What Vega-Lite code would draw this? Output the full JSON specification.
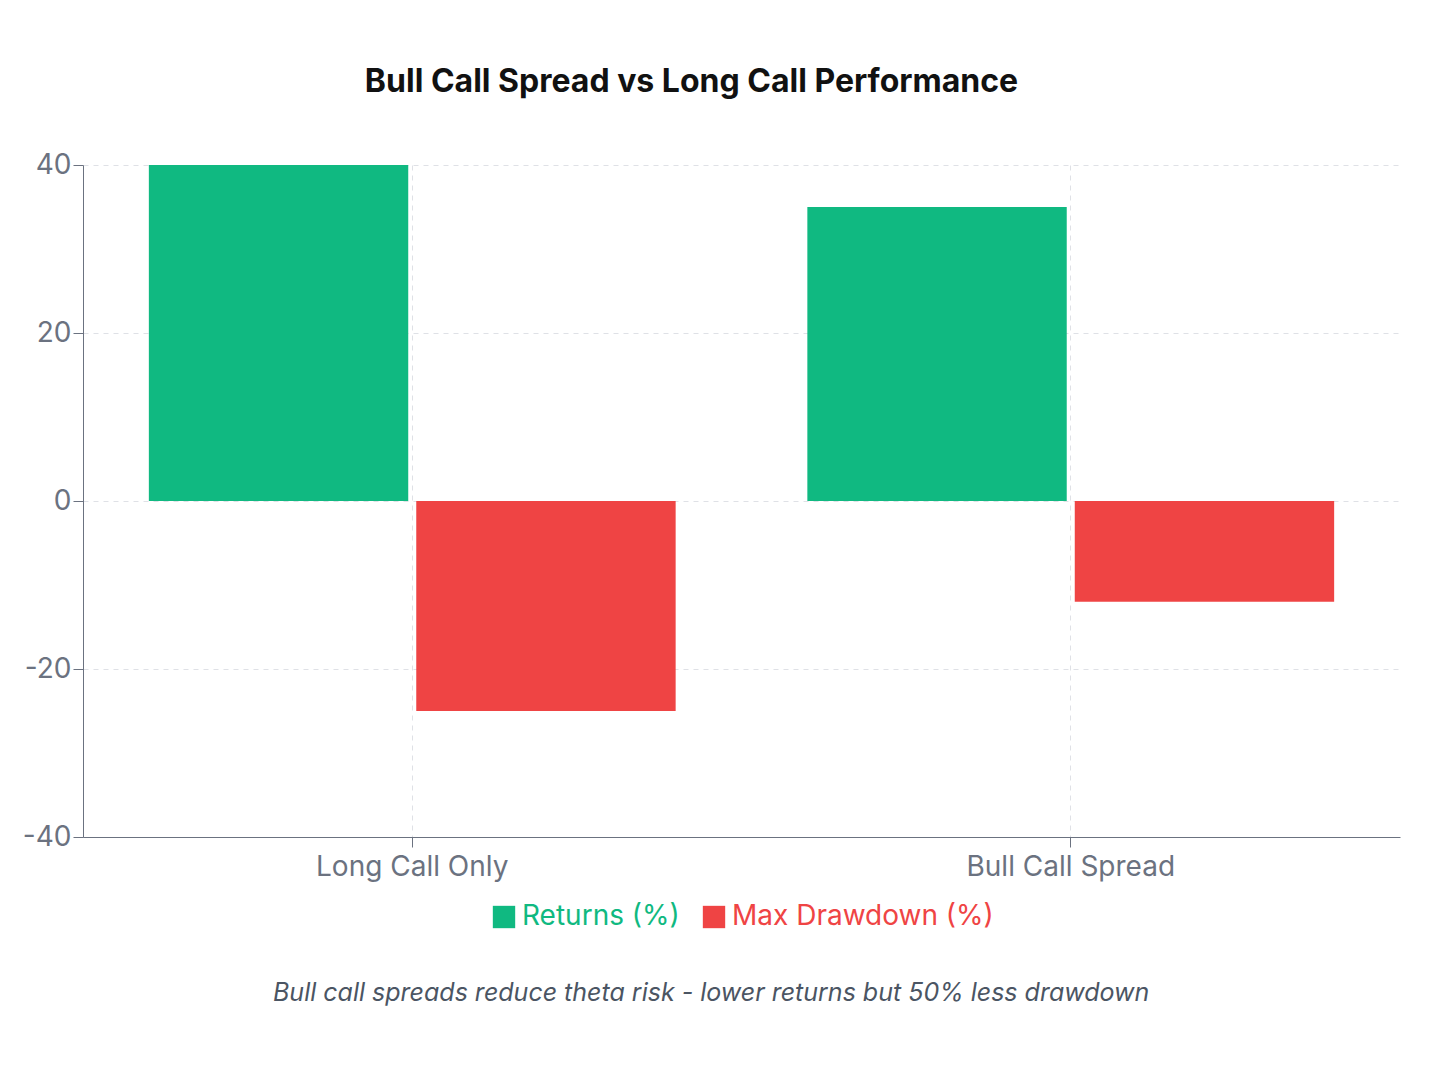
{
  "$schema": "https://vega.github.io/schema/vega-lite/v6.json",
  "background": "white",
  "padding": {"left": 22, "top": 66, "right": 24, "bottom": 40},
  "config": {"font": "Inter", "view": {"stroke": null}, "legend": {"layout": {"bottom": {"anchor": "middle"}}}},
  "title": {
    "text": "Bull call spreads reduce theta risk - lower returns but 50% less drawdown",
    "orient": "bottom",
    "anchor": "middle",
    "fontSize": 25,
    "fontStyle": "italic",
    "fontWeight": "normal",
    "color": "#4b5563",
    "offset": 50
  },
  "data": {
    "values": [
      {"strategy": "Long Call Only", "metric": "Returns (%)", "value": 40},
      {"strategy": "Long Call Only", "metric": "Max Drawdown (%)", "value": -25},
      {"strategy": "Bull Call Spread", "metric": "Returns (%)", "value": 35},
      {"strategy": "Bull Call Spread", "metric": "Max Drawdown (%)", "value": -12}
    ]
  },
  "vconcat": [
    {
      "title": {"text": "Bull Call Spread vs Long Call Performance", "fontSize": 32, "fontWeight": "bold", "color": "#111111", "offset": 52, "dx": -50},
      "width": 1317,
      "height": 672,
      "mark": {"type": "bar"},
      "encoding": {
        "x": {
          "field": "strategy", "type": "nominal", "sort": ["Long Call Only", "Bull Call Spread"],
          "scale": {"paddingInner": 0.2, "paddingOuter": 0.1},
          "axis": {"title": null, "labelAngle": 0, "labelLimit": 400, "labelFontSize": 28, "labelColor": "#6b7280", "domainColor": "#6b7280", "tickColor": "#6b7280", "tickSize": 10, "grid": true, "gridDash": [5, 5], "gridColor": "#dfe1e6", "labelPadding": 6}
        },
        "xOffset": {"field": "metric", "type": "nominal", "sort": ["Returns (%)", "Max Drawdown (%)"], "scale": {"paddingInner": 0.03}},
        "y": {
          "field": "value", "type": "quantitative",
          "scale": {"domain": [-40, 40]},
          "axis": {"title": null, "values": [-40, -20, 0, 20, 40], "labelExpr": "'' + datum.value", "labelFontSize": 28, "labelColor": "#6b7280", "domainColor": "#6b7280", "tickColor": "#6b7280", "tickSize": 10, "gridDash": [5, 5], "gridColor": "#dfe1e6"}
        },
        "color": {
          "field": "metric", "type": "nominal", "sort": ["Returns (%)", "Max Drawdown (%)"],
          "scale": {"domain": ["Returns (%)", "Max Drawdown (%)"], "range": ["#10b981", "#ef4444"]},
          "legend": {
            "title": null, "orient": "bottom", "direction": "horizontal", "labelFontSize": 28, "labelLimit": 400, "symbolType": "square", "symbolSize": 500, "symbolStrokeWidth": 0, "columnPadding": 20, "offset": 22,
            "encode": {"labels": {"update": {"fill": {"signal": "datum.label == 'Returns (%)' ? '#10b981' : '#ef4444'"}}}}
          }
        }
      }
    }
  ]
}
